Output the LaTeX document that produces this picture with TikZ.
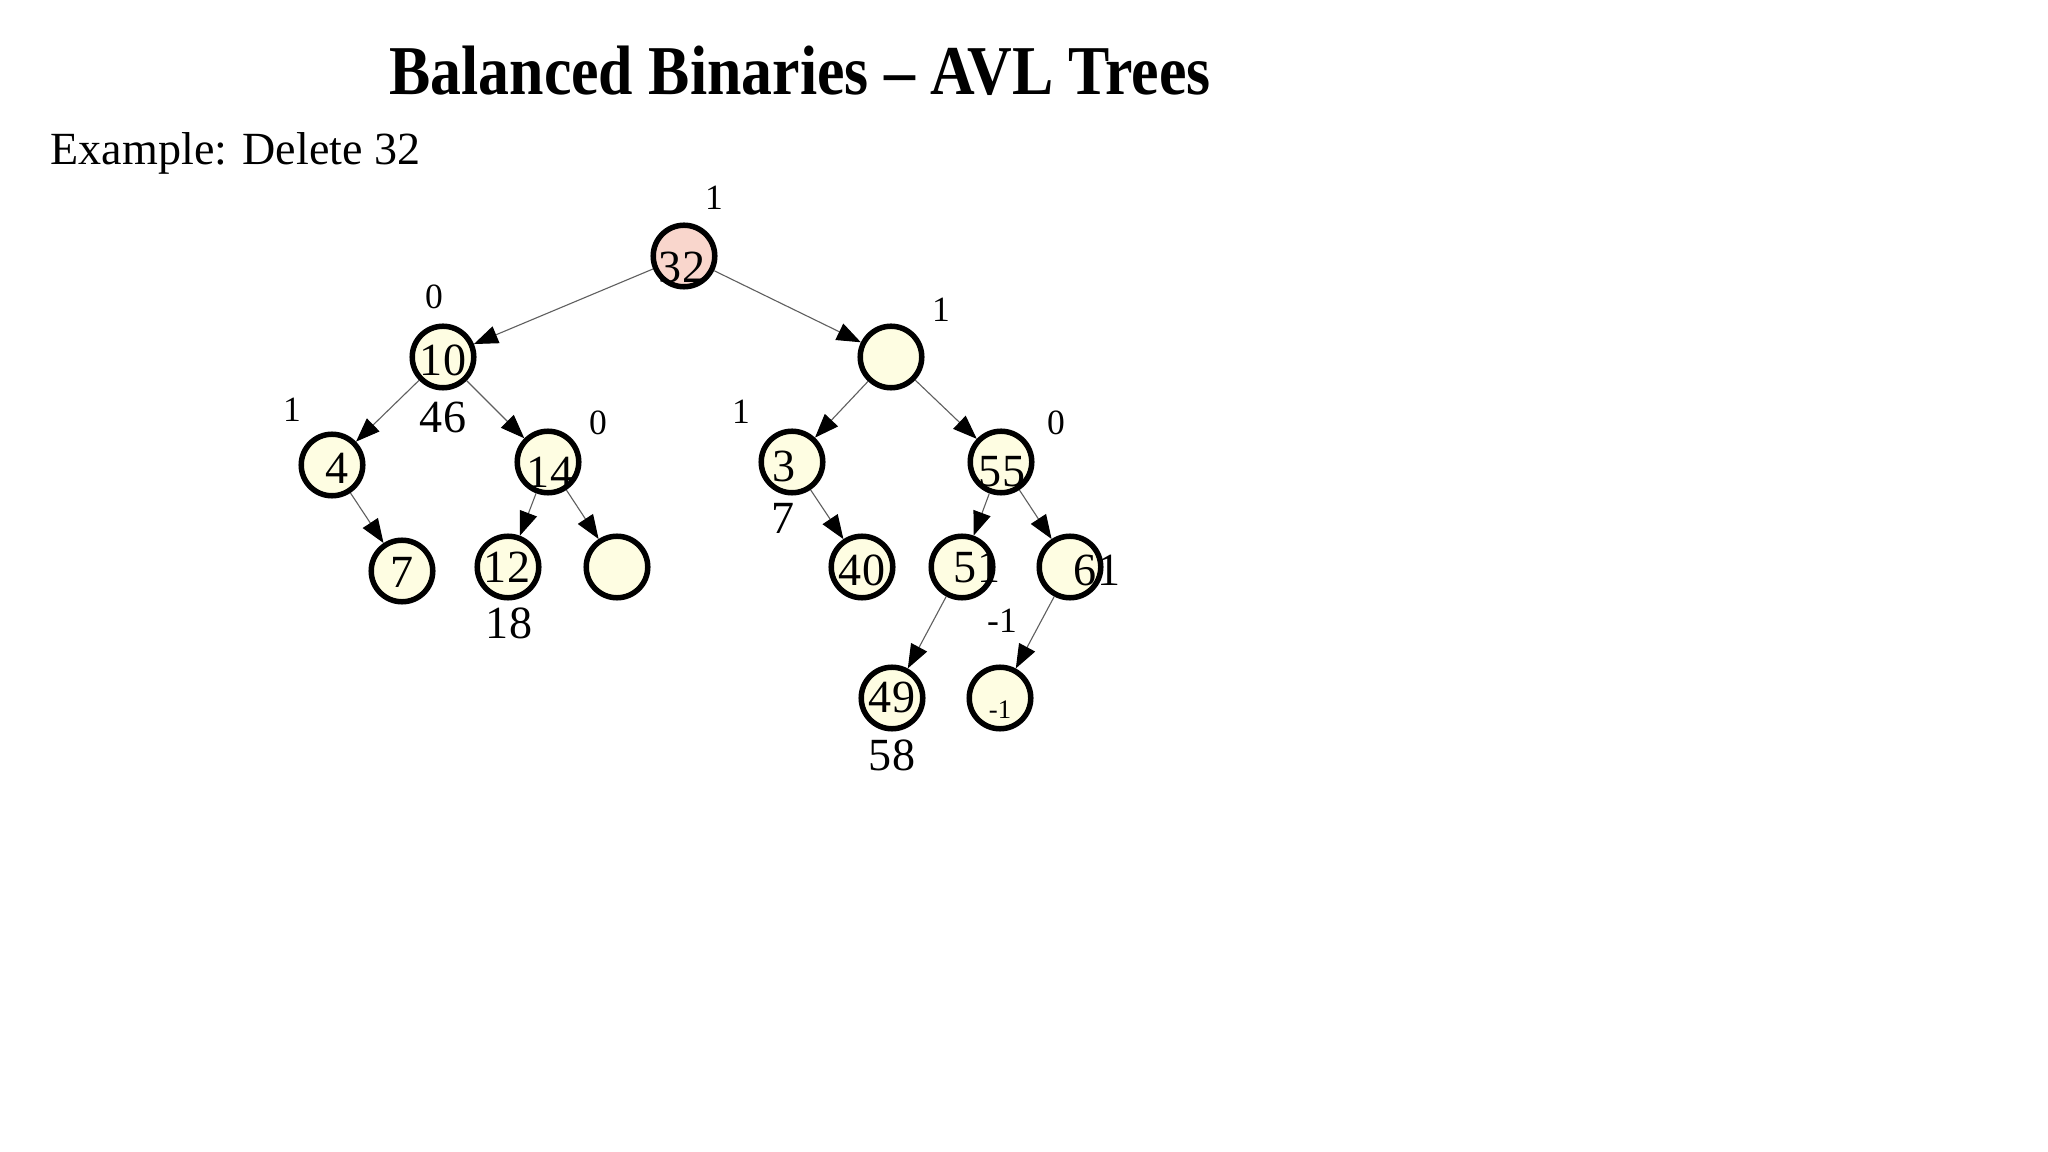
\documentclass[tikz,border=0pt]{standalone}
\usepackage{fontspec}
\setmainfont{Liberation Serif}
\usetikzlibrary{arrows.meta}
\definecolor{cream}{RGB}{254,253,226}
\definecolor{pinkfill}{RGB}{249,214,204}
\definecolor{edgegray}{RGB}{95,95,95}
\tikzset{
  tnode/.style={circle, draw=black, line width=0.055cm, fill=cream, minimum size=0.615cm, inner sep=0pt},
  rootnode/.style={tnode, fill=pinkfill},
  link/.style={draw=edgegray, line width=0.011cm, -{Triangle[length=0.24cm,width=0.18cm,black]}},
  numtext/.style={inner sep=0pt, font=\fontsize{13.1pt}{15pt}\selectfont},
  baltext/.style={inner sep=0pt, font=\fontsize{10.1pt}{12pt}\selectfont},
  smalltext/.style={inner sep=0pt, font=\fontsize{7.6pt}{9pt}\selectfont},
}
\begin{document}
\begin{tikzpicture}[x=0.01cm, y=-0.01cm]
\fill[white] (0,0) rectangle (2048,1152);
\path[use as bounding box] (0,0) rectangle (2048,1152);

% headings
\node[anchor=base, inner sep=0pt, font=\fontsize{19.9pt}{24pt}\selectfont\bfseries] (title) at (800,95) {\scalebox{0.884}[1]{Balanced Binaries – AVL Trees}};
\node[anchor=base west, inner sep=0pt, font=\fontsize{13.1pt}{15pt}\selectfont] (example) at (50,165) {Example: Delete 32};

% tree nodes
\node[rootnode] (n32) at (684,256) {};
\node[tnode] (n10) at (443,357) {};
\node[tnode] (nR) at (891,357) {};
\node[tnode] (n4) at (332,465) {};
\node[tnode] (n14) at (548,462) {};
\node[tnode] (n3) at (792,462) {};
\node[tnode] (n55) at (1001,462) {};
\node[tnode] (n7) at (402,571) {};
\node[tnode] (n12) at (508,567) {};
\node[tnode] (nE) at (617,567) {};
\node[tnode] (n40) at (862,567) {};
\node[tnode] (n51) at (962,567) {};
\node[tnode] (n61) at (1070,567) {};
\node[tnode] (n49) at (892,698) {};
\node[tnode] (nM) at (1000,698) {};

% connectors
\draw[link] (n32) -- (n10);
\draw[link] (n32) -- (nR);
\draw[link] (n10) -- (n4);
\draw[link] (n10) -- (n14);
\draw[link] (nR) -- (n3);
\draw[link] (nR) -- (n55);
\draw[link] (n4) -- (n7);
\draw[link] (n14) -- (n12);
\draw[link] (n14) -- (nE);
\draw[link] (n3) -- (n40);
\draw[link] (n55) -- (n51);
\draw[link] (n55) -- (n61);
\draw[link] (n51) -- (n49);
\draw[link] (n61) -- (nM);

% node texts
\node[numtext] (t32) at (682,267) {32};
\node[numtext] (t10) at (443,360) {10};
\node[numtext] (t4) at (337,468) {4};
\node[numtext] (t14) at (550,472) {14};
\node[numtext] (t3) at (784,466) {3};
\node[numtext] (t55) at (1002,472) {55};
\node[numtext] (t7) at (402,572) {7};
\node[numtext] (t12) at (507,567) {12};
\node[numtext] (t40) at (862,570) {40};
\node[numtext] (t51) at (977,568) {51};
\node[numtext] (t61) at (1097,570) {61};
\node[numtext] (t49) at (892,697) {49};
\node[smalltext] (tM) at (1000,710) {-1};

% balance labels
\node[baltext] (b32) at (714,198) {1};
\node[baltext] (b10) at (434,297) {0};
\node[baltext] (bR) at (941,310) {1};
\node[baltext] (b4) at (292,410) {1};
\node[baltext] (b14) at (598,423) {0};
\node[baltext] (b3) at (741,412) {1};
\node[baltext] (b55) at (1056,423) {0};
\node[baltext] (b61) at (1002,621) {-1};

% extra labels
\node[numtext] (l46) at (443,417) {46};
\node[numtext] (l7) at (783,518) {7};
\node[numtext] (l18) at (509,623) {18};
\node[numtext] (l58) at (892,755) {58};
\end{tikzpicture}
\end{document}
